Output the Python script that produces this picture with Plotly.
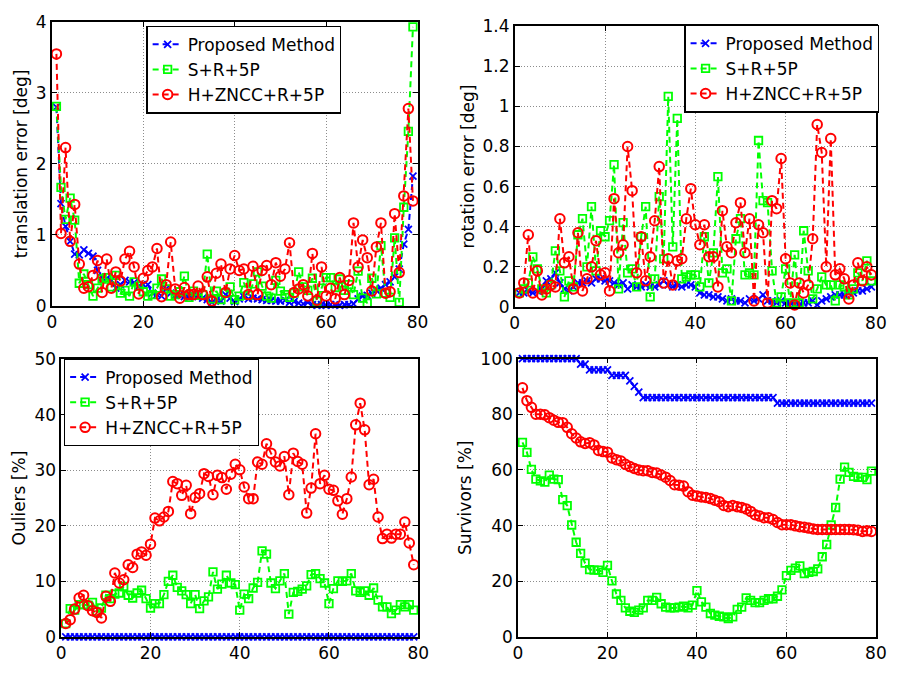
import plotly.graph_objects as go

# ---------------- data ----------------
frames = list(range(1, 80))

series_names = ["Proposed Method", "S+R+5P", "H+ZNCC+R+5P"]

trans_proposed = [2.80, 1.44, 1.12, 0.91, 0.73, 0.72, 0.79, 0.74, 0.70, 0.50,
                  0.40, 0.39, 0.36, 0.25, 0.30, 0.36, 0.34, 0.33, 0.28, 0.30,
                  0.30, 0.18, 0.16, 0.14, 0.24, 0.18, 0.15, 0.16, 0.13, 0.12,
                  0.15, 0.13, 0.11, 0.09, 0.05, 0.09, 0.07, 0.16, 0.11, 0.06,
                  0.10, 0.13, 0.10, 0.11, 0.10, 0.09, 0.08, 0.08, 0.07, 0.07,
                  0.08, 0.05, 0.06, 0.04, 0.03, 0.05, 0.02, 0.01, 0.02, 0.01,
                  0.02, 0.02, 0.01, 0.02, 0.02, 0.03, 0.10, 0.14, 0.15, 0.18,
                  0.22, 0.25, 0.30, 0.34, 0.41, 0.52, 0.87, 1.08, 1.83]
trans_srp = [2.81, 1.67, 1.22, 1.52, 1.21, 0.32, 0.45, 0.30, 0.14, 0.25,
             0.38, 0.40, 0.27, 0.43, 0.18, 0.22, 0.14, 0.34, 0.28, 0.20,
             0.14, 0.16, 0.25, 0.38, 0.24, 0.14, 0.16, 0.20, 0.42, 0.12,
             0.21, 0.15, 0.16, 0.73, 0.10, 0.21, 0.09, 0.18, 0.27, 0.09,
             0.14, 0.33, 0.15, 0.31, 0.48, 0.28, 0.14, 0.11, 0.36, 0.21,
             0.16, 0.12, 0.18, 0.48, 0.27, 0.22, 0.39, 0.07, 0.25, 0.40,
             0.40, 0.26, 0.38, 0.22, 0.30, 0.16, 0.49, 0.11, 0.04, 0.39,
             0.17, 0.85, 0.18, 0.12, 0.96, 0.05, 1.39, 2.46, 3.93]
trans_hz = [3.55, 1.02, 2.23, 0.91, 1.43, 0.59, 0.25, 0.27, 0.43, 0.64,
            0.19, 0.66, 0.25, 0.48, 0.35, 0.66, 0.77, 0.55, 0.17, 0.39,
            0.50, 0.55, 0.81, 0.13, 0.30, 0.90, 0.24, 0.11, 0.26, 0.16,
            0.16, 0.28, 0.16, 0.41, 0.07, 0.46, 0.59, 0.19, 0.52, 0.71,
            0.50, 0.52, 0.16, 0.56, 0.16, 0.50, 0.57, 0.30, 0.61, 0.42,
            0.52, 0.89, 0.19, 0.24, 0.30, 0.14, 0.74, 0.08, 0.55, 0.14,
            0.25, 0.10, 0.40, 0.16, 0.36, 1.17, 0.55, 0.93, 0.68, 0.21,
            0.83, 1.17, 0.18, 0.20, 1.30, 0.47, 1.55, 2.78, 1.48]

rot_proposed = [0.07, 0.07, 0.08, 0.07, 0.08, 0.09, 0.13, 0.14, 0.17, 0.12,
                0.09, 0.08, 0.10, 0.12, 0.12, 0.13, 0.12, 0.14, 0.14, 0.13,
                0.13, 0.12, 0.11, 0.12, 0.09, 0.11, 0.10, 0.10, 0.11, 0.10,
                0.10, 0.11, 0.13, 0.11, 0.10, 0.11, 0.10, 0.11, 0.11, 0.10,
                0.07, 0.06, 0.06, 0.05, 0.05, 0.04, 0.03, 0.04, 0.03, 0.03,
                0.02, 0.04, 0.03, 0.04, 0.06, 0.03, 0.03, 0.02, 0.03, 0.02,
                0.02, 0.01, 0.01, 0.02, 0.02, 0.03, 0.01, 0.03, 0.04, 0.05,
                0.06, 0.06, 0.06, 0.07, 0.07, 0.08, 0.08, 0.09, 0.10]
rot_srp = [0.07, 0.09, 0.12, 0.25, 0.19, 0.09, 0.07, 0.11, 0.28, 0.18,
           0.05, 0.13, 0.10, 0.36, 0.44, 0.20, 0.50, 0.18, 0.38, 0.35,
           0.43, 0.71, 0.09, 0.42, 0.17, 0.19, 0.10, 0.35, 0.50, 0.05,
           0.14, 0.55, 0.24, 1.05, 0.30, 0.94, 0.14, 0.15, 0.16, 0.16,
           0.10, 0.35, 0.12, 0.27, 0.65, 0.17, 0.19, 0.03, 0.34, 0.44,
           0.16, 0.17, 0.16, 0.83, 0.53, 0.52, 0.18, 0.02, 0.05, 0.19,
           0.02, 0.26, 0.02, 0.38, 0.18, 0.04, 0.09, 0.15, 0.11, 0.11,
           0.03, 0.11, 0.10, 0.06, 0.09, 0.17, 0.13, 0.23, 0.13]
rot_hz = [0.07, 0.12, 0.36, 0.07, 0.18, 0.06, 0.09, 0.11, 0.10, 0.44,
          0.22, 0.25, 0.09, 0.37, 0.08, 0.14, 0.20, 0.33, 0.16, 0.17,
          0.08, 0.54, 0.27, 0.31, 0.80, 0.58, 0.17, 0.35, 0.13, 0.25,
          0.43, 0.70, 0.12, 0.24, 0.11, 0.23, 0.24, 0.44, 0.59, 0.41,
          0.31, 0.41, 0.25, 0.25, 0.10, 0.48, 0.30, 0.27, 0.42, 0.52,
          0.27, 0.44, 0.03, 0.41, 0.37, 0.02, 0.53, 0.49, 0.74, 0.24,
          0.12, 0.01, 0.12, 0.07, 0.11, 0.34, 0.91, 0.77, 0.20, 0.84,
          0.16, 0.19, 0.14, 0.04, 0.11, 0.22, 0.13, 0.20, 0.16]

out_proposed = [0, 0, 0, 0, 0, 0, 0, 0, 0, 0,
                0, 0, 0, 0, 0, 0, 0, 0, 0, 0,
                0, 0, 0, 0, 0, 0, 0, 0, 0, 0,
                0, 0, 0, 0, 0, 0, 0, 0, 0, 0,
                0, 0, 0, 0, 0, 0, 0, 0, 0, 0,
                0, 0, 0, 0, 0, 0, 0, 0, 0, 0,
                0, 0, 0, 0, 0, 0, 0, 0, 0, 0,
                0, 0, 0, 0, 0, 0, 0, 0, 0]
out_srp = [2.4, 5.1, 4.8, 5.8, 5.8, 5.7, 6.2, 4.5, 5.2, 7.5,
           6.9, 7.7, 7.9, 9.1, 7.5, 7.0, 7.9, 8.4, 6.9, 5.2,
           6.0, 6.0, 7.6, 10.0, 11.1, 8.9, 8.3, 7.6, 6.0, 7.6,
           5.1, 6.5, 7.2, 11.7, 8.6, 9.5, 11.1, 9.7, 9.4, 4.8,
           7.7, 6.9, 8.8, 9.8, 15.5, 14.9, 9.7, 8.7, 10.1, 11.4,
           4.1, 8.0, 8.2, 8.6, 9.2, 11.2, 11.4, 10.5, 9.7, 6.0,
           8.7, 10.1, 10.0, 10.1, 11.4, 8.3, 8.0, 8.3, 7.5, 8.8,
           6.6, 5.4, 5.4, 4.2, 4.8, 5.8, 5.4, 5.8, 4.8]
out_hz = [2.4, 3.1, 5.0, 7.0, 7.5, 5.6, 4.7, 4.4, 3.4, 7.3,
          6.4, 11.5, 9.7, 10.3, 13.0, 12.5, 14.9, 15.3, 14.7, 16.7,
          21.4, 20.9, 21.6, 22.6, 28.0, 27.6, 25.5, 27.3, 22.2, 25.1,
          25.8, 29.4, 28.9, 25.6, 29.1, 28.7, 26.6, 29.3, 31.1, 30.1,
          27.0, 24.9, 24.9, 31.5, 31.1, 34.8, 33.1, 31.5, 30.8, 32.5,
          25.6, 33.1, 31.6, 31.1, 22.3, 26.8, 36.6, 27.6, 29.1, 26.6,
          26.4, 24.5, 22.1, 24.9, 28.8, 38.2, 42.1, 37.3, 27.4, 28.4,
          21.6, 17.7, 18.5, 17.8, 18.5, 18.5, 20.7, 16.9, 13.0]

surv_proposed = [100, 100, 100, 100, 100, 100, 100, 100, 100, 100,
                 100, 100, 100, 98, 98, 96, 96, 96, 96, 96,
                 94, 94, 94, 94, 92, 90, 88, 86, 86, 86,
                 86, 86, 86, 86, 86, 86, 86, 86, 86, 86,
                 86, 86, 86, 86, 86, 86, 86, 86, 86, 86,
                 86, 86, 86, 86, 86, 86, 86, 84, 84, 84,
                 84, 84, 84, 84, 84, 84, 84, 84, 84, 84,
                 84, 84, 84, 84, 84, 84, 84, 84, 84]
surv_srp = [69.9, 66.3, 60.2, 56.7, 56.1, 55.6, 58.1, 56.7, 56.5, 49.3,
            47.2, 40.2, 34.0, 30.0, 26.5, 24.2, 24.0, 24.0, 23.2, 25.7,
            20.1, 15.4, 13.1, 10.4, 9.2, 8.8, 9.6, 10.4, 13.1, 13.1,
            14.2, 11.9, 10.7, 10.4, 10.4, 10.7, 11.0, 10.4, 11.4, 16.6,
            12.6, 10.7, 8.4, 7.8, 7.4, 7.2, 6.6, 7.2, 9.9, 10.7,
            14.0, 13.1, 12.3, 12.3, 13.1, 13.7, 13.7, 14.6, 16.9, 22.0,
            23.9, 24.7, 25.5, 22.7, 23.2, 23.5, 24.4, 28.8, 33.2, 40.2,
            46.5, 56.7, 61.0, 59.1, 57.7, 57.3, 57.3, 56.5, 59.6]
surv_hz = [89.5, 84.9, 82.5, 80.0, 80.0, 79.8, 78.8, 77.9, 77.1, 77.0,
           75.3, 73.0, 71.5, 70.1, 69.5, 69.8, 69.0, 67.0, 66.6, 66.4,
           64.3, 63.7, 63.2, 62.0, 61.2, 60.5, 60.0, 59.7, 59.7, 59.1,
           58.9, 58.2, 57.4, 56.2, 54.7, 54.5, 54.2, 52.2, 50.9, 50.6,
           50.3, 50.1, 49.7, 49.1, 48.6, 47.2, 46.8, 47.2, 46.8, 46.5,
           46.0, 45.1, 43.9, 43.4, 42.8, 42.8, 42.2, 41.1, 40.3, 40.3,
           40.3, 39.9, 39.6, 39.4, 39.1, 38.8, 38.6, 38.6, 38.6, 38.6,
           38.6, 38.6, 38.6, 38.6, 38.5, 38.3, 37.9, 38.1, 37.9]

# ---------------- styling ----------------
W, H = 898, 675
FONT = "DejaVu Sans"
FS = 17

styles = [
    dict(color="#0000FF", symbol="x-thin", size=7, mlw=1.8),
    dict(color="#00FF00", symbol="square-open", size=7.5, mlw=1.8),
    dict(color="#FF0000", symbol="circle-open", size=9.5, mlw=2.0),
]

# plot boxes in pixels: (left, right, top, bottom)
boxes = {
    1: (47.7, 420.0, 12.3, 305.0),
    2: (519.0, 886.7, 16.7, 306.0),
    3: (57.3, 420.7, 360.0, 646.0),
    4: (522.3, 886.7, 359.3, 646.0),
}

panels = [
    (1, [trans_proposed, trans_srp, trans_hz], "translation error [deg]", [0, 4], 1, "legend"),
    (2, [rot_proposed, rot_srp, rot_hz], "rotation error [deg]", [0, 1.4], 0.2, "legend2"),
    (3, [out_proposed, out_srp, out_hz], "Ouliers [%]", [0, 50], 10, "legend3"),
    (4, [surv_proposed, surv_srp, surv_hz], "Survivors [%]", [0, 100], 20, None),
]

fig = go.Figure()
layout = dict(
    width=W, height=H,
    margin=dict(l=0, r=0, t=0, b=0),
    paper_bgcolor="white", plot_bgcolor="white",
    font=dict(family=FONT, size=FS, color="black"),
)


def axis_common():
    return dict(
        showline=True, linecolor="black", linewidth=1.6, mirror="ticks",
        ticks="inside", ticklen=5, tickwidth=1, tickcolor="black",
        showgrid=True, gridcolor="#8c8c8c", gridwidth=1, griddash="1px,2px",
        zeroline=False, tickfont=dict(family=FONT, size=FS, color="black"),
        tick0=0,
    )


for idx, series, ytitle, yrange, ydtick, legend_id in panels:
    l, r, t, b = boxes[idx]
    sfx = "" if idx == 1 else str(idx)
    xa = axis_common()
    xa.update(domain=[l / W, r / W], range=[0, 80], dtick=20,
              anchor="y" + sfx)
    ya = axis_common()
    ya.update(domain=[1 - b / H, 1 - t / H], range=yrange, dtick=ydtick,
              anchor="x" + sfx,
              title=dict(text=ytitle, standoff=4,
                         font=dict(family=FONT, size=FS, color="black")))
    layout["xaxis" + sfx] = xa
    layout["yaxis" + sfx] = ya

    for name, vals, st in zip(series_names, series, styles):
        fig.add_trace(go.Scatter(
            x=frames, y=vals, name=name, mode="lines+markers",
            line=dict(color=st["color"], width=2, dash="6px,4px"),
            marker=dict(symbol=st["symbol"], size=st["size"], color=st["color"],
                        line=dict(color=st["color"], width=st["mlw"])),
            xaxis="x" + sfx, yaxis="y" + sfx,
            legend=legend_id if legend_id else "legend",
            showlegend=legend_id is not None,
            cliponaxis=False,
        ))

legend_style = dict(
    xanchor="left", yanchor="top", bgcolor="white",
    bordercolor="black", borderwidth=1.2,
    font=dict(family=FONT, size=FS, color="black"),
    tracegroupgap=0,
)
layout["legend"] = dict(legend_style, x=144 / W, y=1 - 16 / H)
layout["legend2"] = dict(legend_style, x=691.7 / W, y=1 - 15 / H)
layout["legend3"] = dict(legend_style, x=60 / W, y=1 - 359 / H)

fig.update_layout(**layout)
fig.write_html("out.html")
